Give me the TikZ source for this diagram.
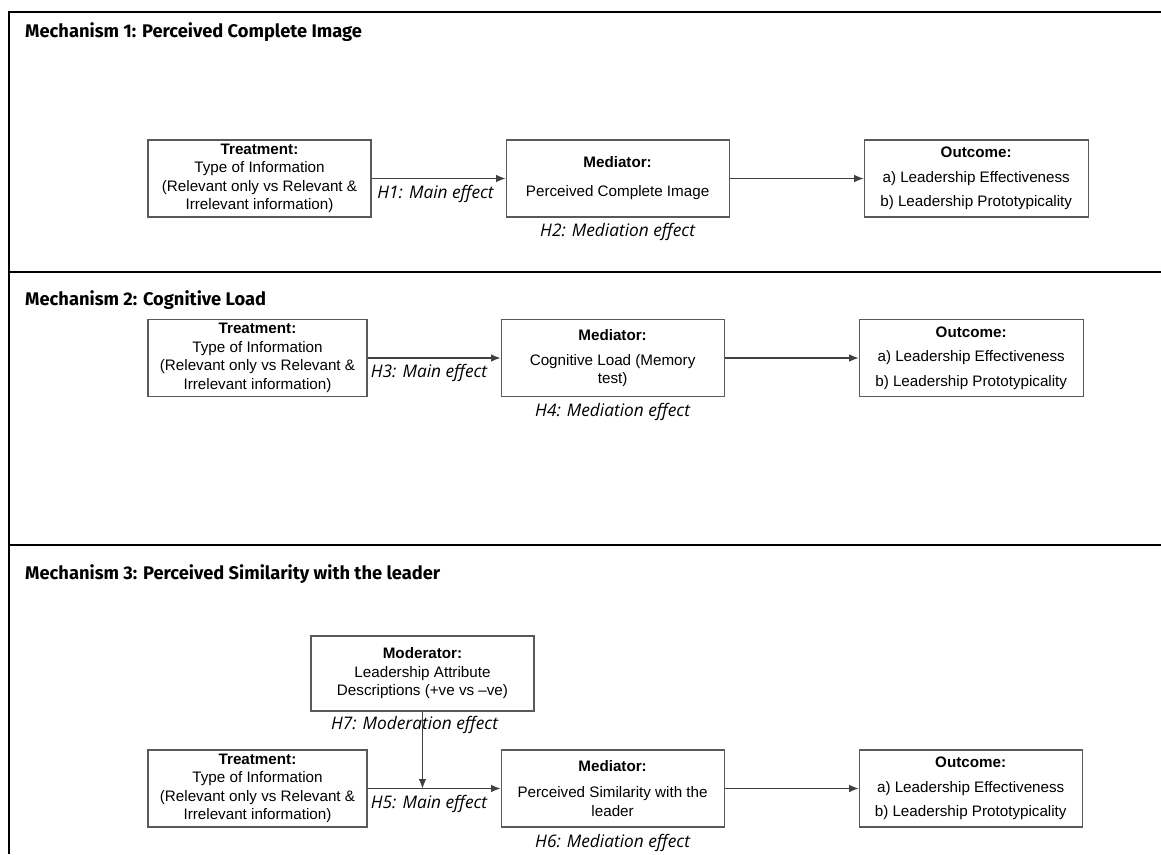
\documentclass[tikz,border=0pt]{standalone}
\usepackage{fontspec}
\setmainfont{Liberation Sans}
\newfontfamily\mechfont{Fira Sans}
\newfontfamily\hypfont{Open Sans}
\usetikzlibrary{positioning,arrows.meta}

\begin{document}
\begin{tikzpicture}[x=1pt, y=-1pt,
            every node/.append style = {inner sep=0pt},
            frame/.style = {line width=2pt, black},
            box/.style = {draw=black!65, line width=1.1pt, minimum width=223pt, minimum height=77pt,
                          align=center, font=\fontsize{15.2}{18.5}\selectfont},
            conn/.style = {draw=black!75, line width=1.1pt, -{Latex[length=9.5pt,width=7.5pt]}},
            hyp/.style = {font=\hypfont\itshape\fontsize{17.3}{19}\selectfont},
            mech/.style = {anchor=west, font=\mechfont\bfseries\fontsize{18.3}{20}\selectfont}]
    \useasboundingbox (0,0) rectangle (1161,854);

    % panel lines
    \draw[frame] (9,854) -- (9,12) -- (1161,12);
    \draw[frame] (9,272) -- (1161,272);
    \draw[frame] (9,545) -- (1161,545);

    % mechanism 1
    \node[mech] (title1) at (25,32) {Mechanism 1: Perceived Complete Image};
    \node[box] (treat1) at (259.5,178.5) {\textbf{Treatment:}\\Type of Information\\(Relevant only vs Relevant \&\\Irrelevant information)};
    \node[box, right=134pt of treat1] (med1) {\textbf{Mediator:}\\[10.5pt]Perceived Complete Image};
    \node[box, minimum width=224pt, right=134pt of med1] (out1) {\textbf{Outcome:}\\[6pt]a) Leadership Effectiveness\\[6pt]b) Leadership Prototypicality};
    \draw[conn] (treat1) -- node[hyp, below=6pt, xshift=-3pt] (h1) {H1: Main effect} (med1);
    \draw[conn] (med1) -- (out1);
    \node[hyp, below=6pt of med1] (h2) {H2: Mediation effect};

    % mechanism 2
    \node[mech] (title2) at (25,300) {Mechanism 2: Cognitive Load};
    \node[box, minimum width=219pt] (treat2) at (257.5,358) {\textbf{Treatment:}\\Type of Information\\(Relevant only vs Relevant \&\\Irrelevant information)};
    \node[box, right=133pt of treat2] (med2) {\textbf{Mediator:}\\[6.5pt]Cognitive Load (Memory\\test)};
    \node[box, minimum width=224pt, right=134pt of med2] (out2) {\textbf{Outcome:}\\[6pt]a) Leadership Effectiveness\\[6pt]b) Leadership Prototypicality};
    \draw[conn] (treat2) -- node[hyp, below=6pt, xshift=-5pt] (h3) {H3: Main effect} (med2);
    \draw[conn] (med2) -- (out2);
    \node[hyp, below=6pt of med2] (h4) {H4: Mediation effect};

    % mechanism 3
    \node[mech] (title3) at (25,574) {Mechanism 3: Perceived Similarity with the leader};
    \node[box, minimum height=75pt] (mod3) at (422.5,673.5) {\textbf{Moderator:}\\Leadership Attribute\\Descriptions (+ve vs –ve)};
    \node[hyp, below=5pt of mod3, xshift=-8pt] (h7) {H7: Moderation effect};
    \node[box, minimum width=219pt] (treat3) at (257.5,788.5) {\textbf{Treatment:}\\Type of Information\\(Relevant only vs Relevant \&\\Irrelevant information)};
    \node[box, right=133pt of treat3] (med3) {\textbf{Mediator:}\\[7.5pt]Perceived Similarity with the\\leader};
    \node[box, right=134pt of med3] (out3) {\textbf{Outcome:}\\[6pt]a) Leadership Effectiveness\\[6pt]b) Leadership Prototypicality};
    \draw[conn] (treat3) -- node[hyp, below=6pt, xshift=-5pt] (h5) {H5: Main effect} (med3);
    \draw[conn] (med3) -- (out3);
    \node[hyp, below=6pt of med3] (h6) {H6: Mediation effect};
    \coordinate (join3) at (mod3.south |- treat3.east);
    \draw[conn] (mod3) -- (join3);
\end{tikzpicture}
\end{document}
